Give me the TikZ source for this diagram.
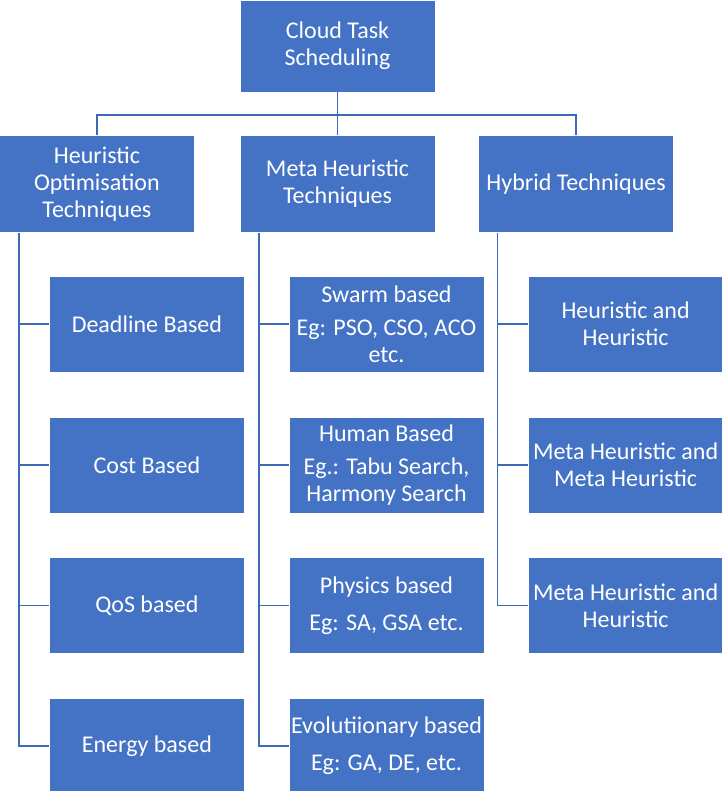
\documentclass[tikz,border=0pt]{standalone}
\usepackage{fontspec}
\setmainfont{Carlito}
\usetikzlibrary{positioning}
\definecolor{CTSblue}{HTML}{4472C4}
\definecolor{CTSline}{HTML}{3D69B8}
\tikzset{ctsbox/.style={draw=white,line width=0.6pt,fill=CTSblue,text=white,
 align=center,minimum width=195pt,minimum height=96pt,inner sep=2pt,
 font=\fontsize{24pt}{27pt}\selectfont},
 ctsline/.style={draw=CTSline,line width=1.6pt}}

\begin{document}
\begin{tikzpicture}[node distance=44pt]
\useasboundingbox (0,0) rectangle (721pt,-791pt);
\node[ctsbox,minimum height=92pt] (cloud) at (337.5pt,-46pt) {Cloud Task\\Scheduling};
\node[ctsbox,minimum height=97pt,below=43pt of cloud] (meta) {Meta Heuristic\\Techniques};
\node[ctsbox,minimum height=97pt,left=45pt of meta] (heur) {Heuristic\\Optimisation\\Techniques};
\node[ctsbox,minimum height=97pt,right=43pt of meta] (hyb) {Hybrid Techniques};
% heuristic column
\node[ctsbox,below=43pt of heur,xshift=50pt] (deadline) {Deadline Based};
\node[ctsbox,below=of deadline] (cost) {Cost Based};
\node[ctsbox,below=of cost] (qos) {QoS based};
\node[ctsbox,below=of qos] (energy) {Energy based};
% meta heuristic column
\node[ctsbox,below=43pt of meta,xshift=49pt] (swarm) {Swarm based\\[6pt]Eg: PSO, CSO, ACO\\etc.};
\node[ctsbox,below=of swarm] (human) {Human Based\\[6pt]Eg.: Tabu Search,\\Harmony Search};
\node[ctsbox,below=of human] (physics) {Physics based\\[10pt]Eg: SA, GSA etc.};
\node[ctsbox,below=of physics] (evol) {Evolutiionary based\\[10pt]Eg: GA, DE, etc.};
% hybrid column
\node[ctsbox,below=43pt of hyb,xshift=49.5pt] (hh) {Heuristic and\\Heuristic};
\node[ctsbox,below=of hh] (mm) {Meta Heuristic and\\Meta Heuristic};
\node[ctsbox,below=of mm] (mh) {Meta Heuristic and\\Heuristic};
% connectors
\coordinate (bus) at ([yshift=-23pt]cloud.south);
\draw[ctsline] (cloud.south) -- (meta.north);
\draw[ctsline] (heur.north) |- (bus) -| (hyb.north);
\coordinate (heurrail) at ([xshift=20pt]heur.south west);
\coordinate (metarail) at ([xshift=19pt]meta.south west);
\coordinate (hybrail) at ([xshift=19pt]hyb.south west);
\foreach \n in {deadline,cost,qos,energy} \draw[ctsline] (heurrail) |- (\n.west);
\foreach \n in {swarm,human,physics,evol} \draw[ctsline] (metarail) |- (\n.west);
\foreach \n in {hh,mm,mh} \draw[ctsline] (hybrail) |- (\n.west);
\end{tikzpicture}
\end{document}
